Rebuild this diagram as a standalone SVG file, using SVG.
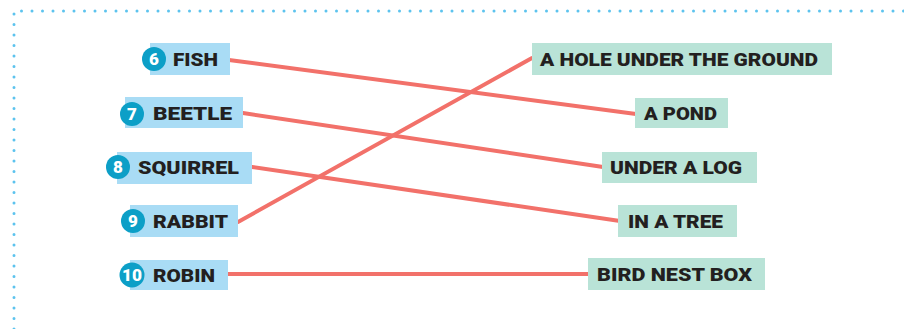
<svg xmlns="http://www.w3.org/2000/svg" width="904" height="329" viewBox="0 0 904 329">
<style>
.lbl{fill:#a9dcf5}
.ans{fill:#b9e3d7}
.num{fill:#0c9fc7}
.t{font-family:Roboto,"Liberation Sans",sans-serif;font-weight:900;font-size:18px;fill:#231f20}
.n{font-family:Roboto,"Liberation Sans",sans-serif;font-weight:900;font-size:17px;fill:#ffffff;text-anchor:middle}
.con line{stroke:#f2716a;stroke-width:4;stroke-linecap:round}
.dots{fill:none;stroke:#5cc3ee;stroke-width:3;stroke-linecap:round;stroke-dasharray:0 10.5}
</style>
<path class="dots" d="M14 329 L14 11 L904 11"/>
<g class="con">
<line x1="229" y1="60" x2="636" y2="114"/>
<line x1="243" y1="113" x2="603" y2="167"/>
<line x1="252" y1="167" x2="620" y2="221"/>
<line x1="238" y1="222" x2="532" y2="58"/>
<line x1="228" y1="274" x2="588" y2="274"/>
</g>
<g id="n6"><rect class="lbl" x="150" y="43" width="80" height="32"/><circle class="num" cx="154" cy="59" r="12"/><text class="n" x="154" y="65">6</text><text class="t" x="173" y="66" textLength="45" lengthAdjust="spacingAndGlyphs">FISH</text></g>
<g id="n7"><rect class="lbl" x="125" y="97" width="118" height="31"/><circle class="num" cx="132" cy="114" r="12"/><text class="n" x="132" y="120">7</text><text class="t" x="153" y="120" textLength="79" lengthAdjust="spacingAndGlyphs">BEETLE</text></g>
<g id="n8"><rect class="lbl" x="117" y="152" width="135" height="32"/><circle class="num" cx="118" cy="167" r="12"/><text class="n" x="118" y="173">8</text><text class="t" x="138" y="174" textLength="101" lengthAdjust="spacingAndGlyphs">SQUIRREL</text></g>
<g id="n9"><rect class="lbl" x="130" y="205" width="108" height="32"/><circle class="num" cx="133" cy="221" r="12"/><text class="n" x="133" y="227">9</text><text class="t" x="153" y="228" textLength="75" lengthAdjust="spacingAndGlyphs">RABBIT</text></g>
<g id="n10"><rect class="lbl" x="130" y="260" width="98" height="30"/><circle class="num" cx="132" cy="275" r="12.5"/><text class="n" x="132" y="281" textLength="20" lengthAdjust="spacingAndGlyphs">10</text><text class="t" x="153" y="282" textLength="62" lengthAdjust="spacingAndGlyphs">ROBIN</text></g>
<g id="a1"><rect class="ans" x="532" y="43" width="300" height="32"/><text class="t" x="540" y="66" textLength="278" lengthAdjust="spacingAndGlyphs">A HOLE UNDER THE GROUND</text></g>
<g id="a2"><rect class="ans" x="635" y="98" width="93" height="30"/><text class="t" x="644" y="120" textLength="73" lengthAdjust="spacingAndGlyphs">A POND</text></g>
<g id="a3"><rect class="ans" x="602" y="152" width="155" height="31"/><text class="t" x="610" y="174" textLength="132" lengthAdjust="spacingAndGlyphs">UNDER A LOG</text></g>
<g id="a4"><rect class="ans" x="618" y="205" width="119" height="32"/><text class="t" x="628" y="228" textLength="95" lengthAdjust="spacingAndGlyphs">IN A TREE</text></g>
<g id="a5"><rect class="ans" x="588" y="258" width="177" height="32"/><text class="t" x="597" y="281" textLength="155" lengthAdjust="spacingAndGlyphs">BIRD NEST BOX</text></g>
</svg>
